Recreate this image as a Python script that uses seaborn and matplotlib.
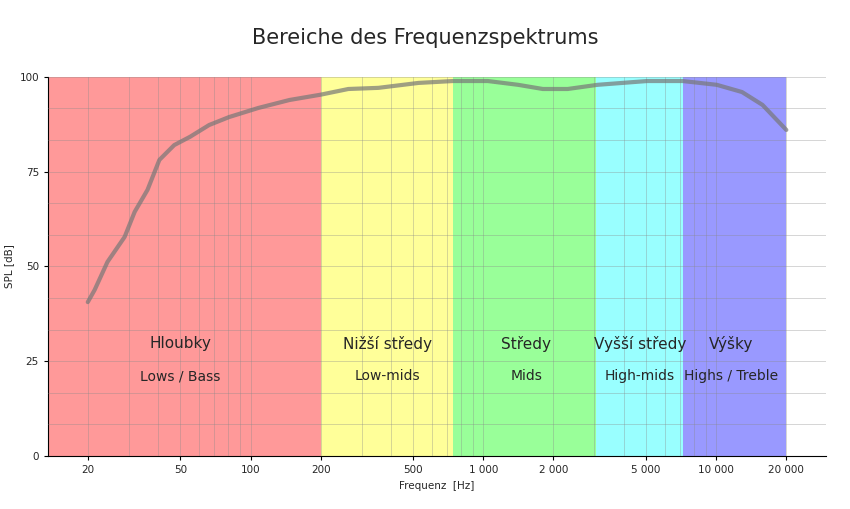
import matplotlib
matplotlib.use("Agg")
import matplotlib.pyplot as plt
import seaborn as sns
import numpy as np
from matplotlib.ticker import FixedLocator, NullFormatter, MultipleLocator

freq = [20, 21.4, 24.3, 28.8, 31.8, 36.1, 40.6, 47, 55, 66.4, 80.9, 108, 147, 200, 263, 354, 526, 740,
        1045, 1410, 1800, 2300, 3090, 5050, 7180, 10050, 12900, 15800, 20000]
spl = [40.6, 43.8, 51.2, 57.8, 64.4, 70.2, 78.1, 82, 84.2, 87.3, 89.4, 91.8, 93.9, 95.3, 96.8, 97.1, 98.4, 98.9,
       98.9, 97.9, 96.8, 96.8, 97.9, 98.9, 98.9, 97.9, 96.0, 92.6, 86.0]
band_edges = [13.5, 200, 740, 3050, 7180, 20000]
band_colors = ["#ff9999", "#ffff99", "#99ff99", "#99ffff", "#9999ff"]
band_names_cz = ["Hloubky", "Nižší středy", "Středy", "Vyšší středy", "Výšky"]
band_names_en = ["Lows / Bass", "Low-mids", "Mids", "High-mids", "Highs / Treble"]
label_x = [50, 387, 1530, 4700, 11600]
xticks = [20, 50, 100, 200, 500, 1000, 2000, 5000, 10000, 20000]
xticklabels = ["20", "50", "100", "200", "500", "1 000", "2 000", "5 000", "10 000", "20 000"]

sns.set_style("white")
fig = plt.figure(figsize=(8.5, 5.09), dpi=100)
ax = fig.add_axes([0.0565, 0.104, 0.9155, 0.745])
ax.set_xscale("log")
ax.set_xlim(13.5, 29660)
ax.set_ylim(0, 100)

for i in range(5):
    ax.axvspan(band_edges[i], band_edges[i + 1], color=band_colors[i], zorder=0, lw=0)
    ax.text(label_x[i], 29.6, band_names_cz[i], ha="center", va="center", fontsize=11)
    ax.text(label_x[i], 21.1, band_names_en[i], ha="center", va="center", fontsize=10)

minor = [m * 10 ** e for e in range(1, 5) for m in range(2, 10)]
ax.xaxis.set_minor_locator(FixedLocator(minor))
ax.xaxis.set_minor_formatter(NullFormatter())
ax.set_xticks(xticks)
ax.set_xticklabels(xticklabels, fontsize=7.5)
ax.yaxis.set_major_locator(MultipleLocator(25))
ax.yaxis.set_minor_locator(MultipleLocator(100 / 12))
ax.tick_params(axis="y", labelsize=7.5)
ax.grid(True, which="both", color="#888888", alpha=0.35, lw=0.7)
ax.set_axisbelow(False)

sns.lineplot(x=freq, y=spl, ax=ax, color="#777777", alpha=0.7, lw=3, zorder=3)

for s in ["top", "right"]:
    ax.spines[s].set_visible(False)
for s in ["left", "bottom"]:
    ax.spines[s].set_color("black")
    ax.spines[s].set_linewidth(0.8)
ax.tick_params(axis="both", which="major", length=3, color="black", direction="out", bottom=True, left=True)
ax.set_xlabel("Frequenz  [Hz]", fontsize=7.5)
ax.set_ylabel("SPL [dB]", fontsize=7.5)
fig.suptitle("Bereiche des Frequenzspektrums", fontsize=15, y=0.945)
fig.savefig("out.png", dpi=100)
